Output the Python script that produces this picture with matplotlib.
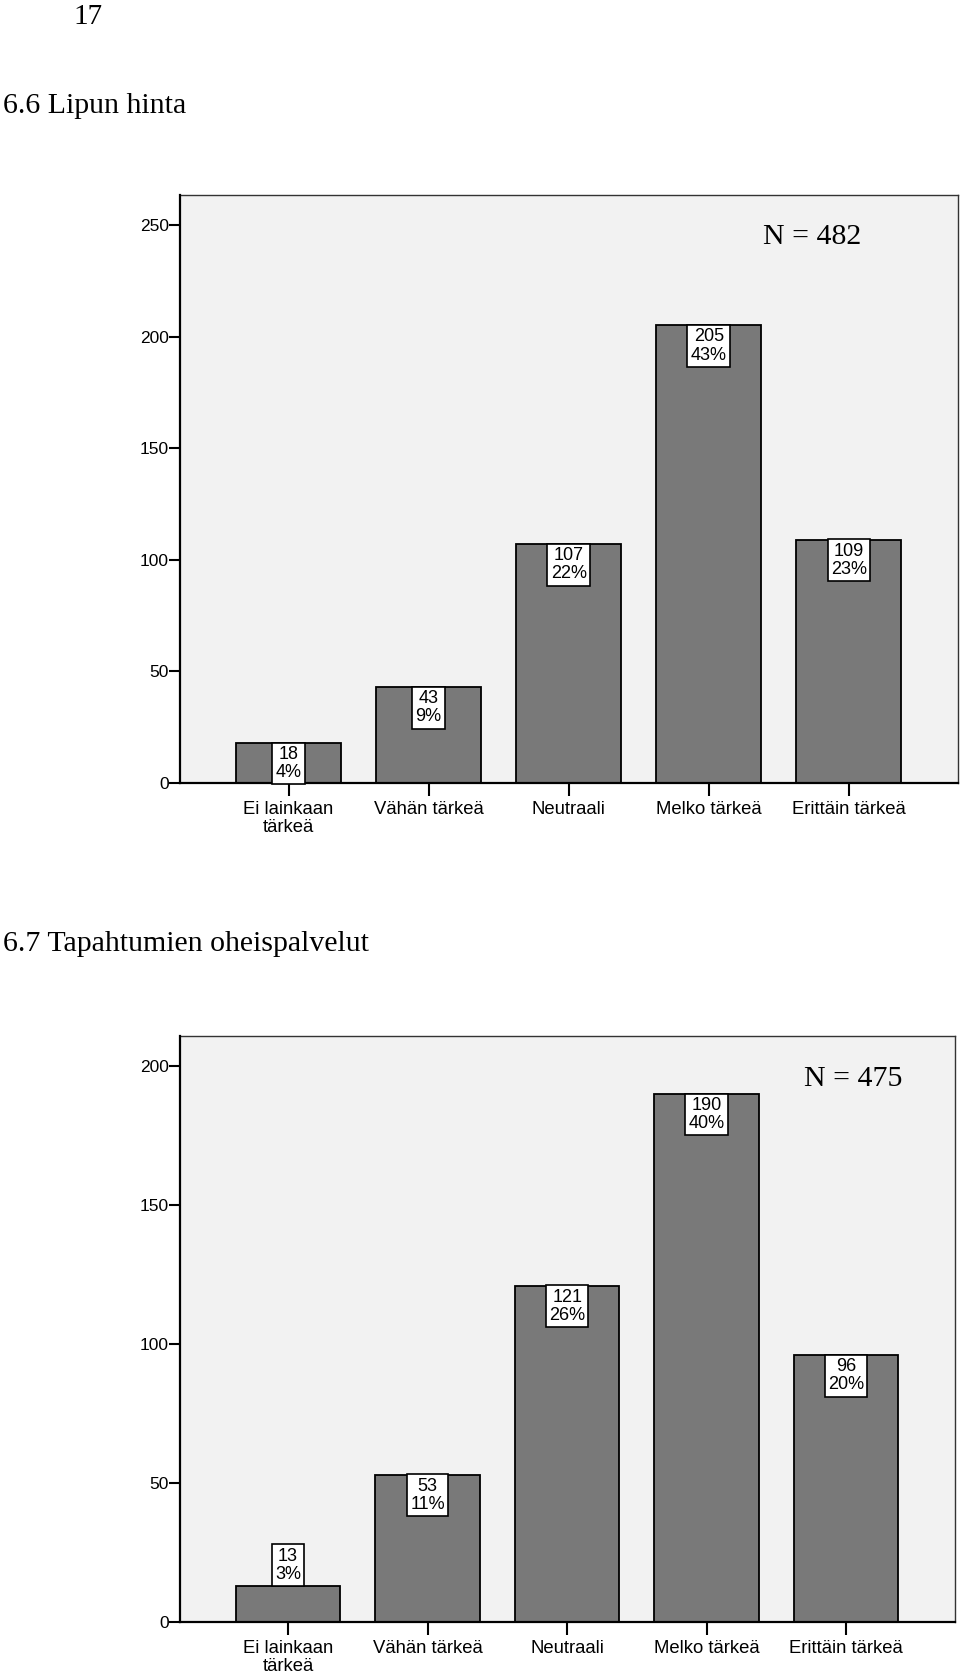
import matplotlib.pyplot as plt
from matplotlib.transforms import offset_copy

# categories shared by both charts
categories = ["Ei lainkaan\ntärkeä", "Vähän tärkeä", "Neutraali", "Melko tärkeä", "Erittäin tärkeä"]

# 6.6 Lipun hinta
counts_66 = [18, 43, 107, 205, 109]
pct_66 = [4, 9, 22, 43, 23]
n_66 = 482

# 6.7 Tapahtumien oheispalvelut
counts_67 = [13, 53, 121, 190, 96]
pct_67 = [3, 11, 26, 40, 20]
n_67 = 475

bar_col = "#797979"
bg_col = "#f2f2f2"
serif = "Liberation Serif"
sans = "Liberation Sans"

fig = plt.figure(figsize=(9.6, 16.72), dpi=100)

fig.text(73/960, 1 - 24/1672, "17", family=serif, fontsize=21, va="baseline")
fig.text(3/960, 1 - 113/1672, "6.6 Lipun hinta", family=serif, fontsize=21.5, va="baseline")
fig.text(3/960, 1 - 951/1672, "6.7 Tapahtumien oheispalvelut", family=serif, fontsize=21.5, va="baseline")


def draw(ax, counts, pcts, n, ymax, yticks, n_pos, above_first=False):
    x = range(len(categories))
    ax.set_facecolor(bg_col)
    ax.bar(x, counts, width=0.75, color=bar_col, edgecolor="black", linewidth=1.3, zorder=2)
    for i, (c, p) in enumerate(zip(counts, pcts)):
        if above_first and i == 0:
            tr = offset_copy(ax.transData, fig=fig, x=0, y=3, units="dots")
            va = "bottom"
        else:
            tr = offset_copy(ax.transData, fig=fig, x=0, y=-3, units="dots")
            va = "top"
        ax.text(i, c, f"{c}\n{p}%", transform=tr, ha="center", va=va, family=sans,
                fontsize=13, linespacing=1.1, zorder=4, clip_on=False,
                bbox=dict(boxstyle="square,pad=0.18", fc="white", ec="black", lw=1.2))
    ax.set_xlim(-0.775, 4.78)
    ax.set_ylim(0, ymax)
    ax.set_yticks(yticks)
    ax.set_xticks(list(x))
    ax.set_xticklabels(categories, family=sans, fontsize=13.3, linespacing=1.1)
    for lab in ax.get_yticklabels():
        lab.set_family(sans)
        lab.set_fontsize(12.5)
    ax.tick_params(axis="y", length=8, width=1.5, pad=0, direction="out")
    ax.tick_params(axis="x", length=9, width=1.5, pad=4, direction="out")
    for s in ["left", "bottom"]:
        ax.spines[s].set_linewidth(1.6)
        ax.spines[s].set_zorder(3)
    for s in ["top", "right"]:
        ax.spines[s].set_linewidth(1.0)
        ax.spines[s].set_color("#333333")
    ax.text(n_pos[0], n_pos[1], f"N = {n}", transform=ax.transAxes, family=serif,
            fontsize=21.5, ha="center", va="center")


ax1 = fig.add_axes([180/960, 889/1672, 778/960, 588/1672])
draw(ax1, counts_66, pct_66, n_66, 263.4, [0, 50, 100, 150, 200, 250], ((812-180)/778, (783-237)/588))

ax2 = fig.add_axes([180/960, 50/1672, 775/960, 586/1672])
draw(ax2, counts_67, pct_67, n_67, 210.8, [0, 50, 100, 150, 200], ((853-180)/775, (1622-1079)/586),
     above_first=True)

fig.savefig("out.png", dpi=100)
